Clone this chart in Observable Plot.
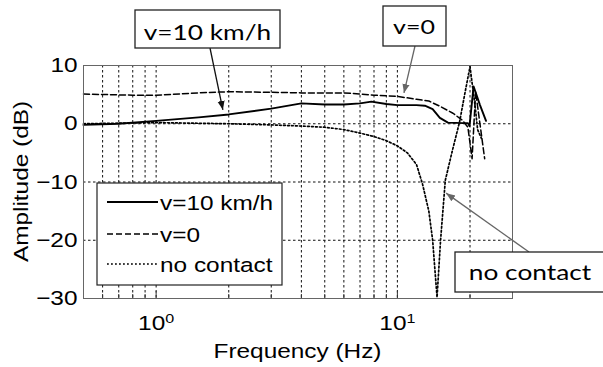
<!DOCTYPE html>
<html><head><meta charset="utf-8">
<script src="https://cdn.jsdelivr.net/npm/d3@7"></script>
<script src="https://cdn.jsdelivr.net/npm/@observablehq/plot@0.6"></script>
<style>html,body{margin:0;padding:0;background:#fff}</style>
</head><body><div id="chart"></div>
<script>
// ---- data ----
const v10Freq = [0.5, 0.7, 1, 1.5, 2, 3, 4, 5, 6, 7, 7.8, 9, 10, 12, 13, 14, 15, 16.2, 18.8, 19.6, 19.9, 20.7, 22, 23.3];
const v10Db   = [-0.2, 0, 0.5, 1.1, 1.6, 2.6, 3.5, 3.3, 3.3, 3.5, 3.8, 3.4, 3.2, 3.2, 3.1, 2.5, 1.0, 0.2, 0.1, 0.1, -0.4, 6.4, 3.2, 0.5];
const v0Freq  = [0.5, 0.8, 1, 1.5, 2, 3, 4, 6, 7, 8, 10, 12, 13.5, 15, 17, 18.6, 19.6, 20.4, 21.1, 23];
const v0Db    = [5.1, 4.9, 4.9, 5.3, 5.5, 5.4, 5.3, 5.3, 5.1, 4.9, 4.7, 4.2, 3.9, 3.0, 1.8, 0.6, -0.6, -6.0, 5.5, -6.0];
const ncFreq  = [0.5, 1, 2, 3, 4, 5, 6, 7, 8, 9, 10, 11, 12, 12.7, 13.5, 14, 14.6, 15.1, 15.8, 16.9, 18.1, 19, 20, 21, 21.5, 22.3];
const ncDb    = [0, 0.2, 0, -0.2, -0.4, -0.6, -1.0, -1.6, -2.2, -2.9, -3.8, -5.0, -7.0, -10.3, -15, -20, -29.8, -20, -9.7, -4.6, 0.3, 5, 9.8, 3, -1, -2.5];

const seriesNames = ["v=10 km/h", "v=0", "no contact"];
const xDomain = [0.5, 30];
const yDomain = [-30, 10];
const yTicks = [-30, -20, -10, 0, 10];
const xMajor = [1, 10];
const xMinor = [0.6, 0.7, 0.8, 0.9, 2, 3, 4, 5, 6, 7, 8, 9, 20];
const yGrid = [-20, -10, 0];
const xLabel = "Frequency (Hz)";
const yLabel = "Amplitude (dB)";
const annoLabels = ["v=10 km/h", "v=0", "no contact"];
const annoTargetFreq = [1.9, 10.7, 16.0];
const annoTargetDb = [2.3, 5.2, -12.0];

// ---- layout ----
const W = 603, H = 367, ML = 83, MR = 91, MT = 65, MB = 69;
const plotH = H - MT - MB;
const FONT = "'Liberation Sans', Arial, Helvetica, sans-serif";
const AFONT = "Lato, 'Open Sans', sans-serif";
const FS = 20.5;
const SX = 1.19; // horizontal text stretch seen in the reference

const rows = (f, d) => f.map((v, i) => ({f: v, db: d[i]}));
const v10 = rows(v10Freq, v10Db), v0 = rows(v0Freq, v0Db), nc = rows(ncFreq, ncDb);

const styles = [
  {stroke: "#000", strokeWidth: 1.9, dash: null},
  {stroke: "#000", strokeWidth: 1.5, dash: "6,3"},
  {stroke: "#000", strokeWidth: 1.7, dash: "1.8,2.2"}
];
const gridStyle = {stroke: "#111", strokeWidth: 1, strokeDasharray: "2.5,2.5"};

const plot = Plot.plot({
  width: W, height: H,
  marginLeft: ML, marginRight: MR, marginTop: MT, marginBottom: MB,
  style: {fontFamily: FONT, fontSize: FS + "px", background: "#fff", color: "#000", overflow: "visible"},
  x: {type: "log", domain: xDomain},
  y: {domain: yDomain},
  marks: [
    Plot.ruleX([...xMinor, ...xMajor], {x: d => d, ...gridStyle}),
    Plot.ruleY(yGrid, {y: d => d, ...gridStyle}),
    Plot.ruleX(xMajor, {x: d => d, y1: yDomain[1], y2: yDomain[0], insetTop: plotH - 7, stroke: "#333"}),
    Plot.ruleX(xMinor, {x: d => d, y1: yDomain[1], y2: yDomain[0], insetTop: plotH - 4, stroke: "#333"}),
    Plot.line(nc, {x: "f", y: "db", stroke: styles[2].stroke, strokeWidth: styles[2].strokeWidth, strokeDasharray: styles[2].dash}),
    Plot.line(v0, {x: "f", y: "db", stroke: styles[1].stroke, strokeWidth: styles[1].strokeWidth, strokeDasharray: styles[1].dash}),
    Plot.line(v10, {x: "f", y: "db", stroke: styles[0].stroke, strokeWidth: styles[0].strokeWidth}),
    Plot.frame({stroke: "#666", strokeWidth: 1}),
    Plot.axisY(yTicks, {tickSize: 0, tickPadding: 6, label: null, fontSize: FS}),
    Plot.axisX(xMajor, {tickSize: 0, tickPadding: 17, label: null, fontSize: FS,
      tickFormat: d => "10^" + Math.round(Math.log10(d))})
  ]
});
document.getElementById("chart").appendChild(plot);

const svg = d3.select(plot);

// superscript tick labels
svg.selectAll('g[aria-label="x-axis tick label"] text').each(function() {
  const s = this.textContent.split("^");
  this.textContent = s[0];
  d3.select(this).append("tspan").attr("dy", "-0.55em").attr("font-size", "0.66em").text(s[1]);
});

// stretch all plot texts horizontally
svg.selectAll("text").each(function() {
  const t = this.getAttribute("transform") || "";
  const x = +this.getAttribute("x") || 0;
  this.setAttribute("transform", `${t} translate(${x},0) scale(${SX},1) translate(${-x},0)`);
});

const xs = plot.scale("x"), ys = plot.scale("y");
const ov = svg.append("g");

// axis titles
ov.append("text").attr("transform", `translate(${(ML + W - MR) / 2},358) scale(${SX},1)`)
  .attr("text-anchor", "middle").attr("font-family", FONT).attr("font-size", FS).text(xLabel);
ov.append("text").attr("transform", `translate(28,${MT + plotH / 2}) rotate(-90) scale(${SX},1)`)
  .attr("text-anchor", "middle").attr("font-family", FONT).attr("font-size", FS).text(yLabel);

// legend
const lg = ov.append("g");
lg.append("rect").attr("x", 97).attr("y", 183).attr("width", 185).attr("height", 102)
  .attr("fill", "#fff").attr("stroke", "#222").attr("stroke-width", 1.2);
const legY = [202, 234, 264];
seriesNames.forEach((name, i) => {
  lg.append("line").attr("x1", 107).attr("x2", 158).attr("y1", legY[i]).attr("y2", legY[i])
    .attr("stroke", styles[i].stroke).attr("stroke-width", styles[i].strokeWidth)
    .attr("stroke-dasharray", styles[i].dash);
  lg.append("text").attr("transform", `translate(160,${legY[i] + 7.5}) scale(${SX},1)`)
    .attr("text-anchor", "start").attr("font-family", FONT).attr("font-size", FS).text(name);
});

// annotations
const defs = svg.append("defs");
[["ahBlack", "#111"], ["ahGrey", "#666"]].forEach(([id, c]) => {
  defs.append("marker").attr("id", id).attr("viewBox", "0 0 10 10").attr("refX", 10).attr("refY", 5)
    .attr("markerWidth", 9).attr("markerHeight", 9).attr("orient", "auto-start-reverse")
    .attr("markerUnits", "userSpaceOnUse")
    .append("path").attr("d", "M0,1 L10,5 L0,9 Z").attr("fill", c);
});
const boxes = [
  {x: 135, y: 10, w: 145, h: 38, tx: 207.5, ty: 40, fs: 21, sx: 210, sy: 48, color: "#111", marker: "ahBlack"},
  {x: 383, y: 6, w: 63, h: 40, tx: 414, ty: 33.5, fs: 20, sx: 415, sy: 46, color: "#666", marker: "ahGrey"},
  {x: 455, y: 252, w: 160, h: 40, tx: 530, ty: 280, fs: 21, sx: 529, sy: 252, color: "#666", marker: "ahGrey"}
];
annoLabels.forEach((lab, i) => {
  const b = boxes[i];
  ov.append("line").attr("x1", b.sx).attr("y1", b.sy)
    .attr("x2", xs.apply(annoTargetFreq[i])).attr("y2", ys.apply(annoTargetDb[i]))
    .attr("stroke", b.color).attr("stroke-width", 1.3).attr("marker-end", `url(#${b.marker})`);
  ov.append("rect").attr("x", b.x).attr("y", b.y).attr("width", b.w).attr("height", b.h)
    .attr("fill", "#fff").attr("stroke", "#222").attr("stroke-width", 1.3);
  ov.append("text").attr("transform", `translate(${b.tx},${b.ty}) scale(1.25,1)`)
    .attr("text-anchor", "middle").attr("font-family", AFONT).attr("font-size", b.fs).text(lab);
});
</script></body></html>
